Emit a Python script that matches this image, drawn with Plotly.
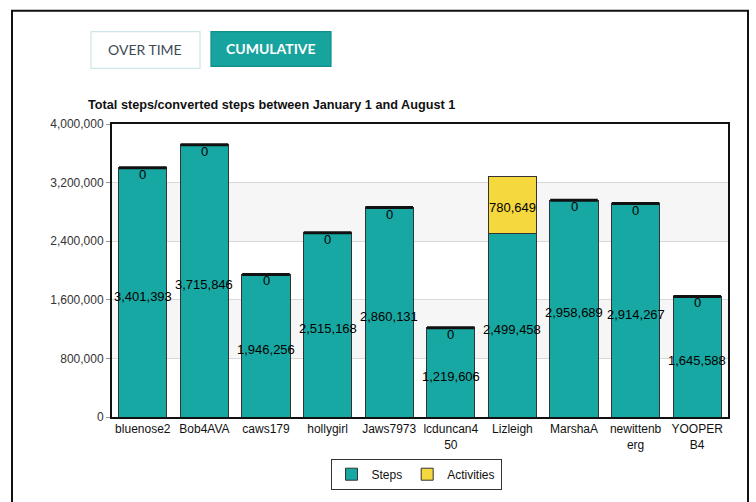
import plotly.graph_objects as go

users = ["bluenose2", "Bob4AVA", "caws179", "hollygirl", "Jaws7973",
         "lcduncan450", "Lizleigh", "MarshaA", "newittenberg", "YOOPERB4"]
tick_labels = ["bluenose2", "Bob4AVA", "caws179", "hollygirl", "Jaws7973",
               "lcduncan4<br>50", "Lizleigh", "MarshaA", "newittenb<br>erg", "YOOPER<br>B4"]
steps = [3401393, 3715846, 1946256, 2515168, 2860131,
         1219606, 2499458, 2958689, 2914267, 1645588]
activities = [0, 0, 0, 0, 0, 0, 780649, 0, 0, 0]
y_ticks = [0, 800000, 1600000, 2400000, 3200000, 4000000]

TEAL = "#18a8a3"
YELLOW = "#f5d73e"
W, H = 756, 502
ML, MR, MT, MB = 112, 28, 124, 83
PW, PH = W - ML - MR, H - MT - MB


def px(x):
    return (x - ML) / PW


def py(y):
    return (H - MB - y) / PH


fig = go.Figure()
fig.add_trace(go.Bar(x=users, y=steps, name="Steps", marker=dict(color=TEAL, line=dict(color="#333", width=1)),
                     hoverinfo="skip"))
fig.add_trace(go.Bar(x=users, y=activities, name="Activities",
                     marker=dict(color=YELLOW, line=dict(color="#333", width=1)), hoverinfo="skip"))

totals = [s + a for s, a in zip(steps, activities)]
cap_x = [u for u, a in zip(users, activities) if a == 0]
cap_y = [t for t, a in zip(totals, activities) if a == 0]
fig.add_trace(go.Scatter(x=cap_x, y=cap_y, mode="markers", showlegend=False, hoverinfo="skip",
                         marker=dict(symbol="line-ew", size=34, line=dict(color="#111", width=3))))

annotations = []
lab_font = dict(family="Arial", size=13, color="#000")
for u, s, a in zip(users, steps, activities):
    annotations.append(dict(x=u, y=s / 2, text=f"{s:,}", showarrow=False, font=lab_font,
                            xanchor="center", yanchor="middle", yshift=-4))
    if a == 0:
        annotations.append(dict(x=u, y=s, text="0", showarrow=False, font=lab_font,
                                xanchor="center", yanchor="top", yshift=3))
    else:
        annotations.append(dict(x=u, y=s + a / 2, text=f"{a:,}", showarrow=False, font=lab_font,
                                xanchor="center", yanchor="middle", yshift=-2))

annotations.append(dict(x=px(86), y=py(105), xref="paper", yref="paper", xanchor="left", yanchor="middle",
                        text="<b>Total steps/converted steps between January 1 and August 1</b>",
                        showarrow=False, font=dict(family="Arial", size=12.7, color="#111")))
annotations.append(dict(x=px(145), y=py(49), xref="paper", yref="paper", xanchor="center", yanchor="middle",
                        text="OVER TIME", showarrow=False, font=dict(family="Lato", size=14, color="#3d4a55")))
annotations.append(dict(x=px(271), y=py(48), xref="paper", yref="paper", xanchor="center", yanchor="middle",
                        text="<b>CUMULATIVE</b>", showarrow=False, font=dict(family="Lato", size=14, color="#ffffff")))

shapes = []
# alternating bands
for i in range(len(y_ticks) - 1):
    if i % 2 == 1:
        shapes.append(dict(type="rect", xref="paper", yref="y", x0=0, x1=1, y0=y_ticks[i], y1=y_ticks[i + 1],
                           fillcolor="#f6f6f6", line=dict(width=0), layer="below"))
# outer page border
shapes.append(dict(type="path", xref="paper", yref="paper",
                   path=f"M {px(12)},{py(H + 5)} L {px(12)},{py(10)} L {px(748)},{py(10)} L {px(748)},{py(H + 5)}",
                   line=dict(color="#111", width=2)))
# buttons
shapes.append(dict(type="rect", xref="paper", yref="paper", x0=px(91), x1=px(200), y0=py(68), y1=py(31),
                   fillcolor="#ffffff", line=dict(color="#cfe5e8", width=1.2)))
shapes.append(dict(type="rect", xref="paper", yref="paper", x0=px(211), x1=px(331), y0=py(66), y1=py(31),
                   fillcolor="#17a39e", line=dict(color="#128f8a", width=1.2)))

fig.update_layout(
    width=W, height=H,
    margin=dict(l=ML, r=MR, t=MT, b=MB),
    barmode="stack", bargap=0.22,
    paper_bgcolor="#ffffff", plot_bgcolor="rgba(0,0,0,0)",
    showlegend=True,
    legend=dict(orientation="h", x=px(416), y=py(461), xanchor="center", yanchor="top",
                bordercolor="#333", borderwidth=1, font=dict(family="Arial", size=12, color="#111"),
                itemwidth=30, traceorder="normal"),
    annotations=annotations, shapes=shapes,
    xaxis=dict(tickmode="array", tickvals=users, ticktext=tick_labels, range=[-0.5, len(users) - 0.5],
               tickangle=0, tickfont=dict(family="Arial", size=12, color="#111"),
               showline=True, linecolor="#111", linewidth=2, mirror=True, showgrid=False, ticks=""),
    yaxis=dict(range=[0, 4000000], tickvals=y_ticks, ticktext=[f"{v:,}" for v in y_ticks],
               tickfont=dict(family="Arial", size=12, color="#333"),
               showline=True, linecolor="#111", linewidth=2, mirror=True,
               showgrid=True, gridcolor="#d8d8d8", gridwidth=1, zeroline=False,
               ticks="outside", ticklen=4, tickcolor="#999"),
    font=dict(family="Arial"),
)
fig.write_html("out.html")
